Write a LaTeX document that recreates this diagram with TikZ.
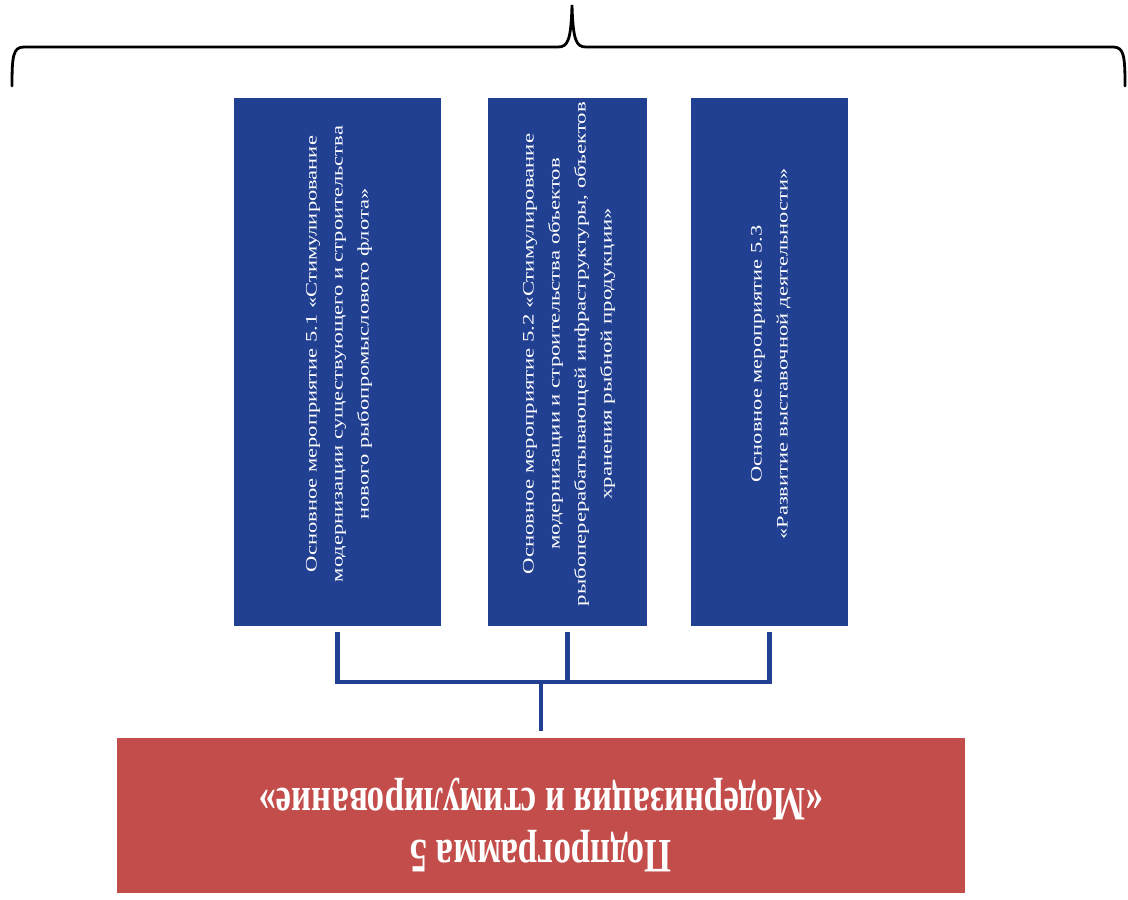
\documentclass[tikz,border=0pt]{standalone}
\usepackage{fontspec}
\setmainfont{Liberation Serif}
\usepackage{graphicx}
\usepackage{tikz}
\usepackage{color}

\definecolor{progblue}{RGB}{33,64,146}
\definecolor{progred}{RGB}{195,77,74}

\newcommand{\vlabel}[2]{\raisebox{4pt}[\height][\depth]{\rotatebox{90}{\resizebox{#1}{\height}{\fontsize{8}{13}\selectfont\begin{tabular}{@{}c@{}}#2\end{tabular}}}}}
\newcommand{\flipped}[3]{\raisebox{-4.5pt}[\height][\depth]{\rotatebox{180}{\resizebox*{#1}{#2}{\fontsize{18}{19.5}\selectfont\bfseries\begin{tabular}{@{}c@{}}#3\end{tabular}}}}}

\begin{document}
\begin{tikzpicture}[x=0.5pt,y=-0.5pt,
  measure/.style={rectangle,fill=progblue,text=white,inner sep=0pt,minimum height=264pt},
  program/.style={rectangle,fill=progred,text=white,inner sep=0pt,minimum width=424pt,minimum height=77.5pt},
  link/.style={draw=progblue,line width=2.3pt}]
  \useasboundingbox (0,0) rectangle (1128,899);
  \draw [line width=1.4pt,line cap=round]
    (12,86) .. controls (12,56) and (13,47) .. (24,47) -- (558,47)
      .. controls (568,47) and (571,40) .. (572,5)
      .. controls (573,40) and (576,47) .. (586,47) -- (1113,47)
      .. controls (1124,47) and (1125,56) .. (1125,86);
  \node [measure,minimum width=103.5pt] (m1) at (337.5,362)
    {\vlabel{228pt}{Основное мероприятие 5.1 «Стимулирование\\
      модернизации существующего и строительства\\
      нового рыбопромыслового флота»}};
  \node [measure,minimum width=79.5pt] (m2) at (567.5,362)
    {\vlabel{252pt}{Основное мероприятие 5.2 «Стимулирование\\
      модернизации и строительства объектов\\
      рыбоперерабатывающей инфраструктуры, объектов\\
      хранения рыбной продукции»}};
  \node [measure,minimum width=78.5pt] (m3) at (769.5,362)
    {\vlabel{185.5pt}{Основное мероприятие 5.3\\
      «Развитие выставочной деятельности»}};
  \node [program] (prog) at (541,815.5)
    {\flipped{282pt}{52pt}{Подпрограмма 5\\
      «Модернизация и стимулирование»}};
  \coordinate (bus) at (541,682);
  \draw [link] ([yshift=-3pt]m1.south) |- (bus) -| ([yshift=-3pt]m3.south);
  \draw [link] ([yshift=-3pt]m2.south) -- (m2.south |- bus);
  \draw [link] (bus) -- ([yshift=3.5pt]prog.north);
\end{tikzpicture}
\end{document}
